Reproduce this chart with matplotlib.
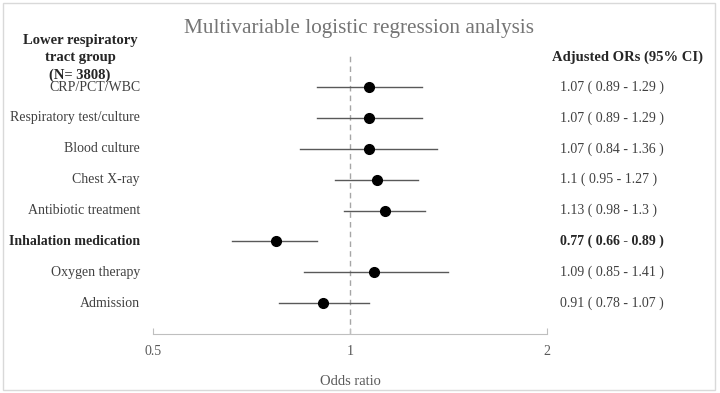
import matplotlib
matplotlib.use("Agg")
import matplotlib.pyplot as plt
import matplotlib.transforms as mtransforms
from matplotlib.patches import Rectangle

plt.rcParams['font.family'] = ['Liberation Serif', 'DejaVu Serif']

categories = ["CRP/PCT/WBC", "Respiratory test/culture", "Blood culture", "Chest X-ray",
              "Antibiotic treatment", "Inhalation medication", "Oxygen therapy", "Admission"]
odds = [1.07, 1.07, 1.07, 1.10, 1.13, 0.77, 1.09, 0.91]
lower = [0.89, 0.89, 0.84, 0.95, 0.98, 0.66, 0.85, 0.78]
upper = [1.29, 1.29, 1.36, 1.27, 1.30, 0.89, 1.41, 1.07]
or_labels = ["1.07 ( 0.89 - 1.29 )", "1.07 ( 0.89 - 1.29 )", "1.07 ( 0.84 - 1.36 )",
             "1.1 ( 0.95 - 1.27 )", "1.13 ( 0.98 - 1.3 )", "0.77 ( 0.66 - 0.89 )",
             "1.09 ( 0.85 - 1.41 )", "0.91 ( 0.78 - 1.07 )"]
bold_rows = ["Inhalation medication"]
xticks = [0.5, 1, 2]
xtick_labels = ["0.5", "1", "2"]

W, H = 720, 393
fig = plt.figure(figsize=(W / 100, H / 100), dpi=100)
ax = fig.add_axes([153 / W, 1 - 334 / H, 394 / W, (334 - 55) / H])

ypos = list(range(len(categories)))
for y, o, lo, hi in zip(ypos, odds, lower, upper):
    ax.plot([lo, hi], [y, y], color='#595959', lw=1.0, zorder=2)
ax.plot(odds, ypos, 'o', color='black', markersize=7, zorder=3)
ax.axvline(1, color='#a6a6a6', lw=1.0, ls=(0, (4, 3)), zorder=1)

ax.set_xscale('log')
ax.set_xlim(0.5, 2)
ax.set_ylim(8.0, -1.04)
ax.set_xticks(xticks)
ax.set_xticklabels(xtick_labels)
ax.minorticks_off()
ax.set_yticks([])
for s in ['top', 'right', 'left']:
    ax.spines[s].set_visible(False)
ax.spines['bottom'].set_color('#bfbfbf')
ax.tick_params(axis='x', direction='in', length=4, color='#bfbfbf',
               labelcolor='#595959', labelsize=10, pad=8)
ax.set_xlabel("Odds ratio", color='#595959', fontsize=10.5, labelpad=12)

tc = '#404040'
trans = mtransforms.blended_transform_factory(fig.transFigure, ax.transData)
for y, cat, lab in zip(ypos, categories, or_labels):
    b = cat in bold_rows
    col = '#262626' if b else tc
    fw = 'bold' if b else 'normal'
    ax.text(140 / W, y, cat, transform=trans, ha='right', va='center',
            fontsize=10, color=col, fontweight=fw)
    ax.text(560 / W, y, lab, transform=trans, ha='left', va='center',
            fontsize=10, color=col, fontweight=fw)

fig.text(80 / W, 1 - 58 / H, "Lower respiratory\ntract group\n(N= 3808)", ha='center', va='center',
         fontsize=10.5, fontweight='bold', color='#262626', linespacing=1.4)
fig.text(628 / W, 1 - 57 / H, "Adjusted ORs (95% CI)", ha='center', va='center',
         fontsize=10.5, fontweight='bold', color='#262626')
fig.text(359 / W, 1 - 28 / H, "Multivariable logistic regression analysis", ha='center', va='center',
         fontsize=15.3, color='#757575')

fig.patches.append(Rectangle((3 / W, 3 / H), 712 / W, 387 / H, transform=fig.transFigure,
                             fill=False, edgecolor='#d9d9d9', lw=1))

fig.savefig("out.png", dpi=100)
